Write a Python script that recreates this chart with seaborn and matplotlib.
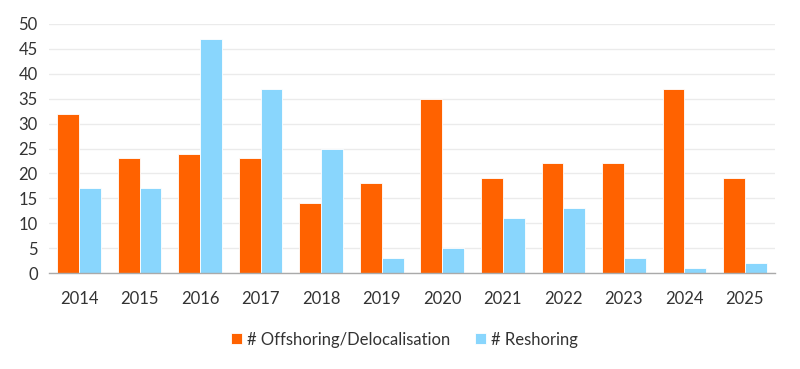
import matplotlib
matplotlib.use("Agg")
import matplotlib.pyplot as plt
import seaborn as sns
import pandas as pd
import numpy as np

years = ["2014", "2015", "2016", "2017", "2018", "2019", "2020", "2021", "2022", "2023", "2024", "2025"]
offshoring = [32, 23, 24, 23, 14, 18, 35, 19, 22, 22, 37, 19]
reshoring = [17, 17, 47, 37, 25, 3, 5, 11, 13, 3, 1, 2]
series_names = ["# Offshoring/Delocalisation", "# Reshoring"]
yticks = [0, 5, 10, 15, 20, 25, 30, 35, 40, 45, 50]

sns.set_theme(style="white")
plt.rcParams['font.family'] = ['Lato', 'DejaVu Sans']

df = pd.DataFrame({
    "year": years * 2,
    "value": offshoring + reshoring,
    "series": [series_names[0]] * len(years) + [series_names[1]] * len(years),
})

fig = plt.figure(figsize=(8, 3.69), dpi=100)
ax = fig.add_axes([0.061, 0.26, 0.908, 0.675])

palette = {series_names[0]: "#FF6200", series_names[1]: "#89D6FD"}
sns.barplot(data=df, x="year", y="value", hue="series", palette=palette,
            width=0.72, gap=0, edgecolor="white", linewidth=0.6, ax=ax, saturation=1)

ax.set_ylim(0, 50)
ax.set_xlim(-0.5, len(years) - 0.5)
ax.set_yticks(yticks)
ax.set_xlabel("")
ax.set_ylabel("")
ax.yaxis.grid(True, color="#EBEBEB", linewidth=1)
ax.set_axisbelow(True)
for s in ["top", "right", "left"]:
    ax.spines[s].set_visible(False)
ax.spines["bottom"].set_color("#AAAAAA")
ax.spines["bottom"].set_linewidth(1)

ax.set_xticks(np.arange(-0.5, len(years) + 0.5, 1), minor=True)
ax.tick_params(axis="x", which="major", length=0, pad=13, labelsize=12, labelcolor="#333333")
ax.tick_params(axis="x", which="minor", length=6, color="#AAAAAA", width=1)
ax.tick_params(axis="y", length=0, pad=8, labelsize=12, labelcolor="#333333")

leg = ax.legend(loc="upper center", bbox_to_anchor=(0.49, -0.175), ncol=2, frameon=False,
                fontsize=12, handlelength=0.65, handleheight=0.65, handletextpad=0.3,
                columnspacing=1.5)
for t in leg.get_texts():
    t.set_color("#333333")

fig.savefig("out.png", dpi=100)
